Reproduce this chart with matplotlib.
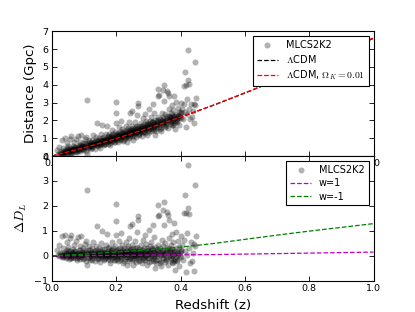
import matplotlib
matplotlib.use("Agg")
import matplotlib.pyplot as plt

plt.rcParams['font.family'] = ['DejaVu Sans']
plt.rcParams['mathtext.fontset'] = 'cm'

# ---- supernova sample (redshift, distance in Gpc, residual vs LCDM) ----
sn_z = [
    0.015, 0.018, 0.021, 0.022, 0.025,
    0.028, 0.030, 0.031, 0.033, 0.034, 0.036,
    0.038, 0.040, 0.041, 0.043, 0.044, 0.046, 0.047,
    0.048, 0.050, 0.051, 0.053, 0.054, 0.056, 0.057,
    0.058, 0.060, 0.061, 0.062, 0.064, 0.065, 0.067,
    0.068, 0.070, 0.071, 0.073, 0.074, 0.076, 0.077,
    0.078, 0.080, 0.082, 0.083, 0.084, 0.086, 0.087,
    0.088, 0.090, 0.092, 0.093, 0.094, 0.096, 0.097,
    0.099, 0.100, 0.102, 0.104, 0.106, 0.107, 0.108, 0.110,
    0.112, 0.113, 0.115, 0.116, 0.118, 0.119, 0.121,
    0.123, 0.124, 0.126, 0.127, 0.129, 0.130, 0.131,
    0.133, 0.134, 0.136, 0.137, 0.139, 0.140, 0.141,
    0.143, 0.144, 0.146, 0.147, 0.149, 0.150, 0.151,
    0.153, 0.154, 0.156, 0.157, 0.158, 0.160, 0.161,
    0.163, 0.164, 0.166, 0.167, 0.169, 0.170, 0.172,
    0.173, 0.174, 0.176, 0.177, 0.179, 0.180, 0.182,
    0.183, 0.185, 0.186, 0.188, 0.189, 0.190, 0.192,
    0.193, 0.195, 0.196, 0.198, 0.199, 0.200, 0.201, 0.200,
    0.203, 0.205, 0.206, 0.208, 0.209, 0.211, 0.212,
    0.214, 0.215, 0.216, 0.218, 0.219, 0.221, 0.222,
    0.224, 0.225, 0.227, 0.228, 0.230, 0.231, 0.233,
    0.234, 0.235, 0.237, 0.238, 0.240, 0.241, 0.243, 0.243,
    0.245, 0.246, 0.248, 0.248, 0.250, 0.251, 0.253, 0.253,
    0.255, 0.256, 0.258, 0.259, 0.261, 0.262, 0.264, 0.265,
    0.266, 0.268, 0.269, 0.267, 0.270, 0.271, 0.273, 0.274,
    0.276, 0.277, 0.279, 0.280, 0.281, 0.283, 0.284,
    0.286, 0.287, 0.289, 0.290, 0.291, 0.293, 0.294,
    0.296, 0.297, 0.299, 0.300, 0.301, 0.303, 0.304,
    0.306, 0.307, 0.309, 0.310, 0.312, 0.313, 0.315,
    0.316, 0.318, 0.319, 0.321, 0.322, 0.323, 0.325,
    0.326, 0.328, 0.329, 0.331, 0.331, 0.333, 0.334, 0.335,
    0.337, 0.338, 0.340, 0.341, 0.342, 0.344, 0.345,
    0.347, 0.348, 0.350, 0.350, 0.351, 0.353, 0.354,
    0.356, 0.357, 0.359, 0.360, 0.361, 0.362, 0.363,
    0.365, 0.366, 0.368, 0.369, 0.370, 0.372, 0.373,
    0.375, 0.376, 0.378, 0.379, 0.381, 0.382, 0.383,
    0.385, 0.386, 0.388, 0.390, 0.391, 0.393,
    0.395, 0.396, 0.398, 0.400, 0.401, 0.403,
    0.405, 0.407, 0.410, 0.412, 0.414, 0.415, 0.417, 0.417, 0.419, 0.420, 0.423,
    0.423, 0.425, 0.427, 0.430, 0.433, 0.435, 0.438, 0.442, 0.442, 0.444, 0.446, 0.447,
    # core of the band
    0.032, 0.042, 0.045, 0.052, 0.055, 0.063, 0.066, 0.072, 0.075, 0.081,
    0.085, 0.091, 0.095, 0.101, 0.105, 0.114, 0.117, 0.122, 0.128, 0.132,
    0.138, 0.142, 0.148, 0.152, 0.155, 0.159, 0.162, 0.165, 0.168, 0.171,
    0.175, 0.178, 0.181, 0.184, 0.187, 0.191, 0.194, 0.197, 0.202, 0.204,
    0.207, 0.210, 0.213, 0.217, 0.220, 0.223, 0.226, 0.229, 0.232, 0.236,
    0.239, 0.242, 0.244, 0.247, 0.249, 0.252, 0.254, 0.257, 0.260, 0.263,
    0.265, 0.268, 0.272, 0.275, 0.278, 0.282, 0.285, 0.288, 0.292, 0.295,
    0.298, 0.302, 0.305, 0.308, 0.311, 0.314, 0.317, 0.320, 0.324, 0.327,
    0.330, 0.336, 0.339, 0.343, 0.346, 0.352, 0.355, 0.358, 0.364, 0.367,
    0.371, 0.374, 0.377, 0.380, 0.384, 0.387, 0.392, 0.397, 0.402,
    # band edges
    0.035, 0.049, 0.059, 0.069, 0.079, 0.089, 0.098, 0.103, 0.111, 0.120,
    0.125, 0.135, 0.145, 0.157, 0.163, 0.174, 0.182, 0.188, 0.196, 0.205,
    0.211, 0.219, 0.225, 0.234, 0.240, 0.246, 0.256, 0.262, 0.270, 0.279,
    0.287, 0.295, 0.303, 0.310, 0.319, 0.328, 0.337, 0.345, 0.355, 0.363,
    0.372, 0.380, 0.389,
]

sn_dist = [
    0.31, 0.13, 0.53, 0.08, 0.21,
    0.14, 0.91, 0.08, 0.26, 0.45, 0.21,
    0.17, 1.03, 0.34, 0.11, 0.26, 0.75, 0.43,
    0.17, 0.32, 0.58, 0.25, 0.12, 0.45, 0.96,
    0.31, 0.17, 1.12, 0.42, 0.29, 0.57, 0.25,
    0.40, 0.77, 0.24, 0.51, 0.36, 0.94, 0.20,
    0.41, 0.48, 1.11, 0.32, 0.63, 0.42, 0.80,
    0.28, 0.49, 1.20, 0.58, 0.40, 0.74, 0.50,
    0.38, 0.58, 0.95, 0.50, 1.09, 0.30, 0.14, 3.13,
    0.62, 0.74, 0.48, 0.92, 0.61, 0.40, 0.71,
    0.57, 0.88, 0.49, 0.68, 1.16, 0.79, 0.60,
    0.75, 0.41, 1.04, 0.69, 0.91, 1.84, 0.59,
    0.83, 0.56, 0.75, 1.02, 0.69, 0.46, 0.92,
    0.83, 1.23, 1.72, 0.69, 0.92, 0.79, 0.59,
    1.06, 0.87, 0.70, 0.94, 1.26, 0.82, 1.70,
    0.69, 1.04, 0.90, 1.21, 0.83, 0.99, 0.60,
    1.11, 0.92, 1.45, 0.84, 1.06, 1.23, 0.76,
    1.02, 1.35, 0.94, 3.05, 1.16, 2.39, 0.87, 1.83,
    1.25, 1.06, 0.79, 1.15, 1.63, 1.04, 1.37,
    0.96, 1.98, 1.23, 1.14, 1.51, 0.82, 1.30,
    1.13, 1.42, 0.99, 1.24, 1.70, 1.33, 0.81,
    1.25, 1.13, 1.57, 1.33, 1.01, 1.93, 2.40, 1.47,
    1.23, 1.40, 2.53, 1.70, 1.14, 1.35, 0.92, 1.58,
    1.41, 1.22, 1.91, 1.51, 1.35, 1.08, 1.69, 2.30,
    1.41, 1.55, 2.95, 2.81, 1.23, 1.66, 1.48, 1.35,
    1.83, 1.56, 1.13, 1.66, 1.46, 2.11, 1.36,
    1.57, 1.78, 1.31, 2.35, 1.55, 1.99, 1.50,
    1.71, 1.19, 1.80, 1.64, 2.61, 1.49, 1.96,
    1.71, 1.38, 2.16, 1.64, 1.91, 1.51, 2.90,
    1.80, 2.41, 1.62, 1.18, 2.04, 1.75, 1.43,
    1.93, 1.72, 3.76, 3.35, 2.19, 3.40, 1.61, 1.89,
    2.08, 1.39, 1.85, 2.42, 1.99, 1.72, 2.21,
    3.69, 1.93, 4.00, 3.11, 1.62, 2.38, 2.04,
    1.85, 3.65, 2.22, 1.57, 2.03, 3.55, 2.64,
    3.39, 2.01, 2.19, 1.80, 2.41, 2.00, 2.87,
    2.17, 1.72, 2.59, 2.12, 3.37, 1.94, 1.51,
    2.38, 3.04, 2.20, 1.91, 2.72, 2.15,
    2.49, 1.75, 2.31, 2.98, 2.13, 2.44,
    2.66, 2.07, 2.89, 3.95, 4.70, 2.47, 4.00, 1.62, 2.35, 3.20, 5.96,
    4.24, 4.02, 2.65, 2.07, 2.94, 2.20, 2.52, 2.92, 1.86, 5.28, 2.85, 3.26,
    # core of the band
    0.18, 0.21, 0.30, 0.28, 0.34, 0.34, 0.41, 0.37, 0.43, 0.38,
    0.49, 0.46, 0.56, 0.53, 0.65, 0.61, 0.56, 0.67, 0.64, 0.71,
    0.67, 0.78, 0.75, 0.72, 0.82, 0.88, 0.82, 0.89, 0.79, 0.89,
    0.97, 0.86, 0.94, 1.04, 0.94, 1.02, 0.91, 1.01, 1.09, 1.00,
    1.16, 1.10, 1.00, 1.18, 1.11, 1.26, 1.19, 1.08, 1.26, 1.20,
    1.40, 1.28, 1.15, 1.37, 1.28, 1.45, 1.34, 1.28, 1.42, 1.34,
    1.51, 1.43, 1.31, 1.53, 1.45, 1.55, 1.42, 1.63, 1.55, 1.73,
    1.44, 1.63, 1.77, 1.58, 1.72, 1.89, 1.66, 1.80, 1.55, 1.80,
    1.94, 1.82, 1.59, 1.97, 1.86, 1.97, 1.77, 2.13, 1.95, 2.11,
    1.91, 2.29, 2.08, 1.83, 2.25, 2.04, 2.24, 2.16, 2.39,
    # band edges
    0.10, 0.40, 0.18, 0.51, 0.26, 0.63, 0.33, 0.73, 0.43, 0.80,
    0.43, 0.84, 0.59, 1.01, 0.66, 1.14, 0.73, 1.16, 0.78, 1.29,
    0.89, 1.34, 0.92, 1.47, 1.09, 1.50, 1.12, 1.63, 1.16, 1.68,
    1.33, 1.85, 1.32, 1.92, 1.47, 2.01, 1.50, 2.08, 1.71, 2.26,
    1.75, 2.25, 1.96,
]

sn_resid = [
    0.24, 0.05, 0.44, -0.02, 0.10,
    0.02, 0.78, -0.06, 0.12, 0.30, 0.05,
    0.00, 0.85, 0.16, -0.08, 0.07, 0.55, 0.22,
    -0.04, 0.10, 0.35, 0.01, -0.12, 0.20, 0.70,
    0.05, -0.10, 0.85, 0.14, 0.00, 0.28, -0.05,
    0.09, 0.45, -0.08, 0.18, 0.02, 0.60, -0.15,
    0.06, 0.12, 0.74, -0.06, 0.25, 0.03, 0.40,
    -0.12, 0.08, 0.78, 0.15, -0.03, 0.30, 0.05,
    -0.08, 0.12, 0.48, 0.02, 0.60, -0.20, -0.36, 2.62,
    0.10, 0.22, -0.05, 0.38, 0.06, -0.15, 0.15,
    0.00, 0.30, -0.10, 0.08, 0.55, 0.18, -0.02,
    0.12, -0.22, 0.40, 0.04, 0.25, 1.18, -0.08,
    0.15, -0.12, 0.06, 0.32, -0.02, -0.25, 0.20,
    0.10, 0.50, 0.98, -0.06, 0.16, 0.02, -0.18,
    0.28, 0.08, -0.10, 0.14, 0.45, 0.00, 0.87,
    -0.14, 0.20, 0.05, 0.35, -0.04, 0.12, -0.28,
    0.22, 0.02, 0.55, -0.08, 0.14, 0.30, -0.18,
    0.08, 0.40, -0.02, 2.08, 0.18, 1.41, -0.12, 0.85,
    0.25, 0.05, -0.22, 0.12, 0.60, 0.00, 0.32,
    -0.10, 0.92, 0.16, 0.06, 0.42, -0.28, 0.20,
    0.02, 0.30, -0.14, 0.10, 0.55, 0.18, -0.36,
    0.08, -0.05, 0.38, 0.14, -0.20, 0.72, 1.18, 0.25,
    0.00, 0.16, 1.28, 0.45, -0.12, 0.08, -0.36, 0.30,
    0.12, -0.08, 0.60, 0.20, 0.02, -0.25, 0.35, 0.95,
    0.05, 0.18, 1.58, 1.45, -0.15, 0.28, 0.08, -0.05,
    0.42, 0.14, -0.30, 0.22, 0.02, 0.65, -0.10,
    0.10, 0.30, -0.18, 0.85, 0.05, 0.48, -0.02,
    0.18, -0.35, 0.25, 0.08, 1.05, -0.08, 0.38,
    0.12, -0.22, 0.55, 0.02, 0.28, -0.12, 1.25,
    0.15, 0.75, -0.05, -0.50, 0.35, 0.06, -0.28,
    0.22, 0.00, 2.03, 1.61, 0.45, 1.65, -0.15, 0.12,
    0.30, -0.40, 0.05, 0.62, 0.18, -0.10, 0.38,
    1.85, 0.08, 2.14, 1.25, -0.25, 0.50, 0.15,
    -0.05, 1.75, 0.30, -0.35, 0.10, 1.62, 0.70,
    1.44, 0.05, 0.22, -0.18, 0.42, 0.00, 0.87,
    0.15, -0.30, 0.55, 0.08, 1.32, -0.12, -0.56,
    0.30, 0.95, 0.10, -0.20, 0.60, 0.02,
    0.35, -0.40, 0.15, 0.80, -0.05, 0.25,
    0.45, -0.15, 0.65, 1.70, 2.43, 0.20, 1.72, -0.66, 0.05, 0.90, 3.64,
    1.92, 1.68, 0.30, -0.30, 0.55, -0.20, 0.10, 0.47, -0.59, 2.82, 0.38, 0.78,
    # core of the band
    0.04, 0.02, 0.10, 0.05, 0.09, 0.06, 0.11, 0.04, 0.09, 0.01,
    0.10, 0.04, 0.12, 0.06, 0.16, 0.08, 0.02, 0.10, 0.04, 0.09,
    0.02, 0.11, 0.05, 0.00, 0.08, 0.12, 0.04, 0.10, -0.02, 0.07,
    0.12, 0.00, 0.06, 0.15, 0.03, 0.09, -0.04, 0.05, 0.10, 0.00,
    0.14, 0.06, -0.05, 0.10, 0.02, 0.15, 0.06, -0.06, 0.10, 0.02,
    0.20, 0.06, -0.08, 0.12, 0.02, 0.18, 0.05, -0.02, 0.10, 0.00,
    0.16, 0.06, -0.08, 0.12, 0.02, 0.10, -0.05, 0.15, 0.04, 0.20,
    -0.10, 0.06, 0.18, -0.02, 0.10, 0.25, 0.00, 0.12, -0.15, 0.08,
    0.20, 0.05, -0.20, 0.15, 0.02, 0.10, -0.12, 0.22, 0.00, 0.14,
    -0.08, 0.28, 0.05, -0.22, 0.18, -0.05, 0.12, 0.00, 0.20,
    # band edges
    -0.05, 0.18, -0.08, 0.20, -0.10, 0.22, -0.12, 0.25, -0.08, 0.24,
    -0.15, 0.20, -0.10, 0.26, -0.12, 0.30, -0.15, 0.24, -0.18, 0.28,
    -0.15, 0.25, -0.20, 0.30, -0.12, 0.26, -0.18, 0.30, -0.22, 0.25,
    -0.15, 0.32, -0.25, 0.30, -0.20, 0.28, -0.28, 0.25, -0.18, 0.32,
    -0.25, 0.20, -0.15,
]

# ---- model curves ----
model_z = [0.0, 0.1, 0.2, 0.3, 0.4, 0.5, 0.6, 0.7, 0.8, 0.9, 1.0]
lcdm_dist = [0.0, 0.46, 0.98, 1.56, 2.18, 2.83, 3.53, 4.26, 5.01, 5.80, 6.60]
lcdm_ok_dist = [0.0, 0.46, 0.98, 1.56, 2.18, 2.84, 3.54, 4.27, 5.03, 5.82, 6.63]
w_plus1_resid = [0.0, 0.01, 0.02, 0.03, 0.04, 0.05, 0.07, 0.09, 0.11, 0.13, 0.15]
w_minus1_resid = [0.0, 0.07, 0.15, 0.24, 0.35, 0.49, 0.66, 0.83, 0.99, 1.14, 1.29]

x_ticks = [0.0, 0.2, 0.4, 0.6, 0.8, 1.0]
top_yticks = [0, 1, 2, 3, 4, 5, 6, 7]
bot_yticks = [-1, 0, 1, 2, 3, 4]

fig = plt.figure(figsize=(4.15, 3.12), dpi=100)
fig.subplots_adjust(left=0.125, right=0.9, top=0.9, bottom=0.1, hspace=0.0)
ax1 = fig.add_subplot(2, 1, 1)
ax2 = fig.add_subplot(2, 1, 2)

tick_fs = 6.8
lab_fs = 9.6
leg_fs = 7.0
pt_kw = dict(s=19, c='k', alpha=0.3, linewidths=0)

ax1.scatter(sn_z, sn_dist, label='MLCS2K2', **pt_kw)
ax1.plot(model_z, lcdm_dist, '--', color='k', lw=0.9, label=r'$\Lambda$CDM')
ax1.plot(model_z, lcdm_ok_dist, '--', color='r', lw=0.9,
         label=r'$\Lambda$CDM, $\Omega_K=0.01$')
ax1.set_xlim(0, 1)
ax1.set_ylim(0, 7)
ax1.set_xticks(x_ticks)
ax1.set_yticks(top_yticks)
ax1.set_ylabel('Distance (Gpc)', fontsize=lab_fs)

ax2.scatter(sn_z, sn_resid, label='MLCS2K2', **pt_kw)
ax2.plot(model_z, w_plus1_resid, '--', color='m', lw=0.9, label='w=1')
ax2.plot(model_z, w_minus1_resid, '--', color='g', lw=0.9, label='w=-1')
ax2.set_xlim(0, 1)
ax2.set_ylim(-1, 4)
ax2.set_xticks(x_ticks)
ax2.set_yticks(bot_yticks)
ax2.set_ylabel(r'$\Delta D_L$', fontsize=lab_fs)
ax2.set_xlabel('Redshift (z)', fontsize=lab_fs)

for ax in (ax1, ax2):
    ax.tick_params(direction='in', top=True, right=True, labelsize=tick_fs,
                   length=3.5, width=0.6, pad=2.5)
    for sp in ax.spines.values():
        sp.set_linewidth(0.8)
    leg = ax.legend(loc='upper right', fontsize=leg_fs, scatterpoints=1,
                    fancybox=False, framealpha=1, borderaxespad=0.5,
                    handlelength=2.2, labelspacing=0.35)
    leg.get_frame().set_edgecolor('k')
    leg.get_frame().set_linewidth(0.8)

fig.savefig('out.png', dpi=100)
